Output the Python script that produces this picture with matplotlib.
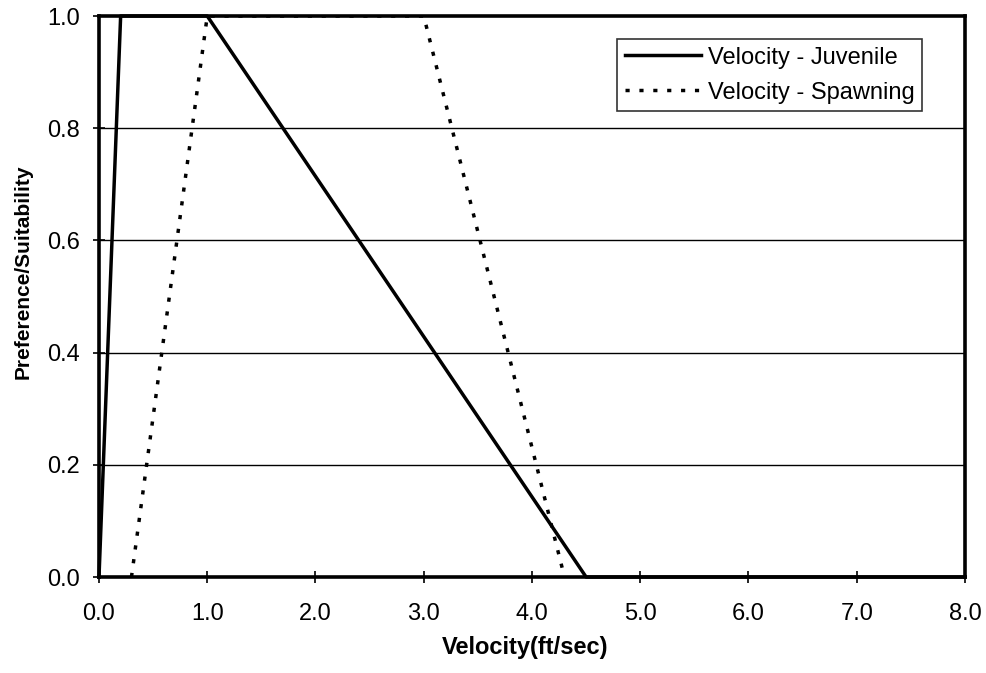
import matplotlib
matplotlib.use("Agg")
import matplotlib.pyplot as plt

juv_x = [0.0, 0.2, 1.0, 4.5, 8.0]
juv_y = [0.0, 1.0, 1.0, 0.0, 0.0]
spawn_x = [0.3, 1.0, 3.0, 4.3]
spawn_y = [0.0, 1.0, 1.0, 0.0]
xticks = [0, 1, 2, 3, 4, 5, 6, 7, 8]
yticks = [0.0, 0.2, 0.4, 0.6, 0.8, 1.0]

plt.rcParams['font.family'] = ['Liberation Sans', 'DejaVu Sans']

fig = plt.figure(figsize=(9.87, 6.73), dpi=100)
ax = fig.add_axes([0.1003, 0.1426, 0.8774, 0.8336])

ax.plot(juv_x, juv_y, color='black', lw=2.5, label='Velocity - Juvenile', clip_on=False, zorder=3)
ax.plot(spawn_x, spawn_y, color='black', lw=2.5, linestyle=(0, (1.2, 2.8)),
        label='Velocity - Spawning', clip_on=True, zorder=2)

ax.set_xlim(0, 8)
ax.set_ylim(0, 1)
ax.set_xticks(xticks)
ax.set_xticklabels([f"{v:.1f}" for v in xticks])
ax.set_yticks(yticks)
ax.set_yticklabels([f"{v:.1f}" for v in yticks])
for y in yticks[1:-1]:
    ax.axhline(y, color='black', lw=1.0, zorder=1)

ax.tick_params(direction='inout', length=8, width=1.2, labelsize=17)
ax.tick_params(axis='x', pad=15)
ax.tick_params(axis='y', pad=9.5)
for s in ax.spines.values():
    s.set_linewidth(2.6)
    s.set_zorder(2.5)

ax.set_xlabel('Velocity(ft/sec)', fontsize=17, fontweight='bold')
ax.xaxis.set_label_coords(0.492, -0.105)
ax.set_ylabel('Preference/Suitability', fontsize=15, fontweight='bold')
ax.yaxis.set_label_coords(-0.0762, 0.545)

leg = ax.legend(loc='upper right', bbox_to_anchor=(0.9503, 0.959), fontsize=17, frameon=True,
                fancybox=False, edgecolor='black', handlelength=3.2, handletextpad=0.3,
                borderpad=0.32, labelspacing=0.55, borderaxespad=0.0)
leg.get_frame().set_linewidth(1.2)

fig.savefig('out.png', dpi=100, facecolor='white')
